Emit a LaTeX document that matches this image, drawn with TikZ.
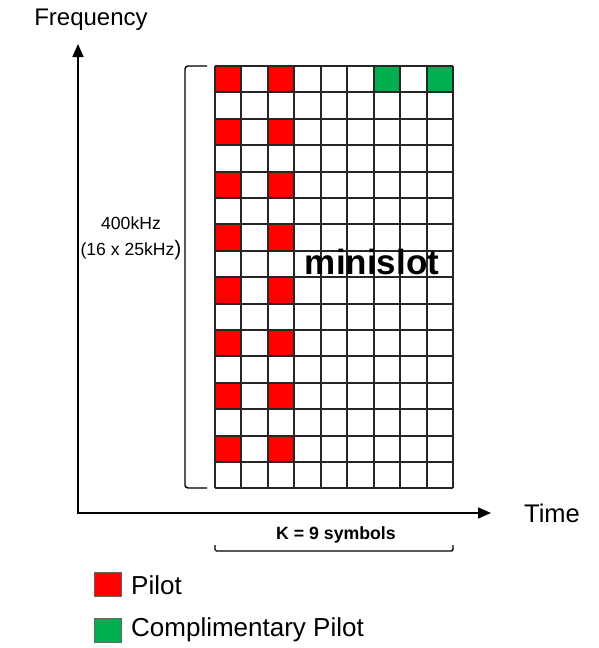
\documentclass[tikz,border=0pt]{standalone}
\usepackage{fontspec}
\setmainfont{Liberation Sans}
\usetikzlibrary{arrows.meta}
\definecolor{pilotred}{RGB}{255,0,0}
\definecolor{compgreen}{RGB}{0,176,80}
\tikzset{
  gridline/.style={line width=1.3pt, black!85},
  axisline/.style={line width=1.7pt, black, {Triangle[length=13pt,width=11pt]}-{Triangle[length=13pt,width=11pt]}},
  bracketline/.style={line width=1.4pt, black, rounded corners=3pt},
  bigtext/.style={font=\fontsize{24}{24}\selectfont, inner sep=0pt},
  legtext/.style={font=\fontsize{26}{26}\selectfont, inner sep=0pt, anchor=west},
  midtext/.style={font=\fontsize{17.6}{17.6}\selectfont, inner sep=0pt},
  legendbox/.style={draw=black!60, line width=0.8pt}
}
\begin{document}
\begin{tikzpicture}[x=1pt,y=-1pt]
\useasboundingbox (0,0) rectangle (598,648);
\def\gx{215}\def\gy{66}\def\cw{26.44}\def\ch{26.4}
% pilot cells
\foreach \r in {0,2,...,14}{
  \foreach \c in {0,2}{
    \pgfmathsetmacro{\xa}{round(\gx+\c*\cw)}
    \pgfmathsetmacro{\xb}{round(\gx+(\c+1)*\cw)}
    \pgfmathsetmacro{\ya}{round(\gy+\r*\ch)}
    \pgfmathsetmacro{\yb}{round(\gy+(\r+1)*\ch)}
    \fill[pilotred] (\xa,\ya) rectangle (\xb,\yb);
  }
}
\foreach \c in {6,8}{
  \pgfmathsetmacro{\xa}{round(\gx+\c*\cw)}
  \pgfmathsetmacro{\xb}{round(\gx+(\c+1)*\cw)}
  \pgfmathsetmacro{\yb}{round(\gy+\ch)}
  \fill[compgreen] (\xa,\gy) rectangle (\xb,\yb);
}
% grid
\pgfmathsetmacro{\gxe}{round(\gx+9*\cw)}
\pgfmathsetmacro{\gye}{round(\gy+16*\ch)}
\foreach \c in {0,...,9}{
  \pgfmathsetmacro{\xa}{round(\gx+\c*\cw)}
  \draw[gridline] (\xa,\gy) -- (\xa,\gye);
}
\foreach \r in {0,...,16}{
  \pgfmathsetmacro{\ya}{round(\gy+\r*\ch)}
  \draw[gridline] (\gx,\ya) -- (\gxe,\ya);
}
\node[font=\bfseries\fontsize{35}{35}\selectfont, inner sep=0pt] (mini) at (372,262) {minislot};
% axes
\coordinate (ytip) at (78,44);
\coordinate (origin) at (78,513);
\coordinate (xtip) at (491,513);
\draw[axisline] (ytip) -- (origin) -- (xtip);
\node[bigtext] (freq) at (91,20) {Frequency};
\node[bigtext, font=\fontsize{25.5}{25.5}\selectfont] (time) at (552,513) {Time};
% frequency bracket
\coordinate (bt) at (207,66);
\coordinate (bb) at (207,488);
\draw[bracketline] (bt) -- (185,66) -- (185,488) -- (bb);
\node[midtext] (bw1) at (131,223) {400kHz};
\node[midtext] (bw2) at (131,250) {(16 x 25kHz{\fontsize{21}{21}\selectfont)}};
% K bracket
\coordinate (kl) at (215,545);
\coordinate (kr) at (453,545);
\draw[bracketline, rounded corners=1.5pt] (kl) -- (215,551) -- (453,551) -- (kr);
\node[font=\bfseries\fontsize{17.7}{17.7}\selectfont, inner sep=0pt] (ksym) at (336,535) {K = 9 symbols};
% legend
\fill[pilotred] (94,572) rectangle (121,596);
\draw[legendbox] (94,572) rectangle (121,596);
\fill[compgreen] (94,618) rectangle (121,642);
\draw[legendbox] (94,618) rectangle (121,642);
\node[legtext] (lp) at (131,585) {Pilot};
\node[legtext] (lc) at (131,630) {Complimentary Pilot};
\end{tikzpicture}
\end{document}
